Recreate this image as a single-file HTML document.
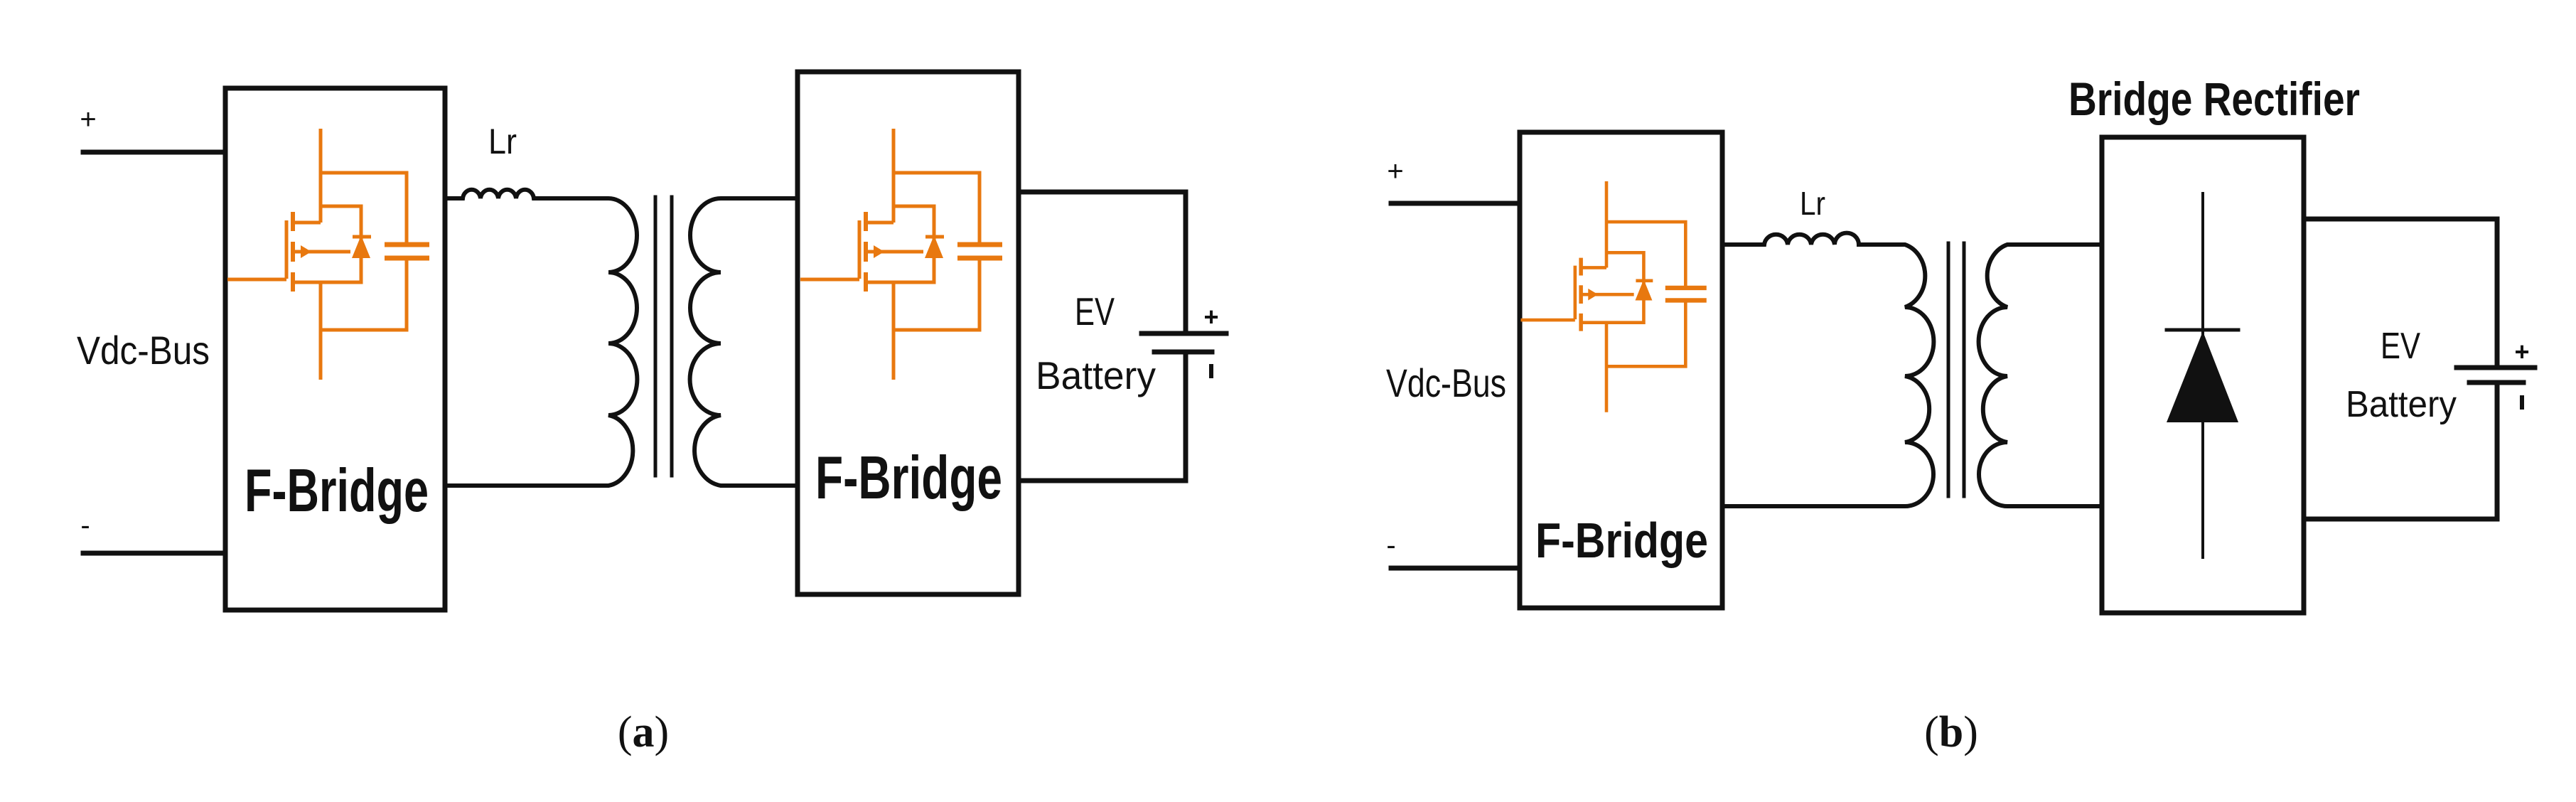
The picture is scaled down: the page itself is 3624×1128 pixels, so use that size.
<!DOCTYPE html>
<html><head><meta charset="utf-8"><style>
html,body{margin:0;padding:0;background:#fff;}
svg{display:block;}
text{font-family:"Liberation Sans",sans-serif;fill:#111;}
</style></head><body>
<svg width="3624" height="1128" viewBox="0 0 3624 1128" xmlns="http://www.w3.org/2000/svg">
<defs>
<g id="mos" stroke="#E8780F" stroke-width="5" fill="none">
  <path d="M0,0V132M-39,132H0M0,109H57V216H-39M0,216V353M0,62H121V163M121,182V283H0"/>
  <path d="M-39,117V144M-39,159V187M-39,202V229" stroke-width="6"/>
  <path d="M-48,129V211M-131,212H-48"/>
  <path d="M-39,173H42"/>
  <polygon points="-28,164 -13,173 -28,182" fill="#E8780F" stroke="none"/>
  <path d="M45,152H71"/>
  <polygon points="57,150 44,182 70,182" fill="#E8780F" stroke="none"/>
  <path d="M90,163H153M90,182H153" stroke-width="7"/>
</g>
</defs>
<g stroke="#111" stroke-width="7" fill="none" stroke-linecap="square">
  <!-- Panel a -->
  <path d="M117,214H317M117,778H317"/>
  <rect x="317" y="124" width="309" height="734"/>
  <path d="M626,279H651a12.6,14 0 0 1 25,0a12.6,14 0 0 1 25,0a12.6,14 0 0 1 25,0a12.6,14 0 0 1 25,0H856A40,52 0 0 1 856,383A40,50 0 0 1 856,483A40,50 0 0 1 856,584A40,50 0 0 1 856,683H626" stroke-width="6"/>
  <path d="M922,277V669M945,277V669" stroke-width="5"/>
  <path d="M1122,279H1014A43,52 0 0 0 1014,383A43,50 0 0 0 1014,483A43,50 0 0 0 1014,584A43,50 0 0 0 1014,683H1122" stroke-width="6"/>
  <rect x="1122" y="101" width="311" height="735"/>
  <path d="M1433,270H1668V469M1668,495V676H1433"/>
  <path d="M1606,469H1725M1624,495H1705"/>
  <!-- Panel b -->
  <path d="M1957,286H2138M1957,799H2138"/>
  <rect x="2138" y="186" width="285" height="669"/>
  <path d="M2423,344H2482a16.6,16 0 0 1 33,0a16.6,16 0 0 1 33,0a16.6,16 0 0 1 33,0a16.6,16 0 0 1 34,0H2680A40,46 0 0 1 2680,432A40,48 0 0 1 2680,529A40,47 0 0 1 2680,622A40,45 0 0 1 2680,712H2423" stroke-width="6"/>
  <path d="M2741,342V698M2763,342V698" stroke-width="5"/>
  <path d="M2957,344H2824A40,46 0 0 0 2824,432A40,48 0 0 0 2824,529A40,47 0 0 0 2824,622A40,45 0 0 0 2824,712H2957" stroke-width="6"/>
  <rect x="2957" y="193" width="284" height="669"/>
  <path d="M3099,272V784" stroke-width="4"/>
  <path d="M3048,464H3149" stroke-width="5"/>
  <path d="M3241,308H3513V517M3513,538V730H3241"/>
  <path d="M3456,517H3566M3474,538H3550"/>
</g>
<polygon points="3099,466 3048,594 3149,594" fill="#111"/>
<use href="#mos" transform="translate(451,181)"/>
<use href="#mos" transform="translate(1257,181)"/>
<use href="#mos" transform="translate(2260,255) scale(0.92)"/>
<!-- small battery signs -->
<rect x="1701" y="512" width="6" height="20" fill="#111"/>
<rect x="3545" y="556" width="6" height="20" fill="#111"/>
<!-- texts -->
<text x="124" y="181" font-size="40" text-anchor="middle">+</text>
<text x="120" y="752" font-size="40" text-anchor="middle">-</text>
<text x="108" y="512" font-size="56" textLength="187" lengthAdjust="spacingAndGlyphs">Vdc-Bus</text>
<text x="687" y="216" font-size="50" textLength="40" lengthAdjust="spacingAndGlyphs">Lr</text>
<text x="344" y="719" font-size="85" font-weight="bold" textLength="259" lengthAdjust="spacingAndGlyphs">F-Bridge</text>
<text x="1147" y="701" font-size="85" font-weight="bold" textLength="263" lengthAdjust="spacingAndGlyphs">F-Bridge</text>
<text x="1512" y="457" font-size="55" textLength="56" lengthAdjust="spacingAndGlyphs">EV</text>
<text x="1457" y="547" font-size="55" textLength="169" lengthAdjust="spacingAndGlyphs">Battery</text>
<text x="1704" y="458" font-size="36" font-weight="bold" text-anchor="middle">+</text>
<text x="1963" y="254" font-size="40" text-anchor="middle">+</text>
<text x="1957" y="780" font-size="40" text-anchor="middle">-</text>
<text x="1950" y="558" font-size="56" textLength="169" lengthAdjust="spacingAndGlyphs">Vdc-Bus</text>
<text x="2532" y="302" font-size="46" textLength="36" lengthAdjust="spacingAndGlyphs">Lr</text>
<text x="2160" y="784" font-size="70" font-weight="bold" textLength="243" lengthAdjust="spacingAndGlyphs">F-Bridge</text>
<text x="2910" y="162" font-size="66" font-weight="bold" textLength="410" lengthAdjust="spacingAndGlyphs">Bridge Rectifier</text>
<text x="3349" y="504" font-size="52" textLength="56" lengthAdjust="spacingAndGlyphs">EV</text>
<text x="3300" y="586" font-size="52" textLength="156" lengthAdjust="spacingAndGlyphs">Battery</text>
<text x="3548" y="507" font-size="36" font-weight="bold" text-anchor="middle">+</text>
<text x="905" y="1050" font-size="62" text-anchor="middle" style="font-family:'Liberation Serif',serif">(<tspan font-weight="bold">a</tspan>)</text>
<text x="2745" y="1050" font-size="62" text-anchor="middle" style="font-family:'Liberation Serif',serif">(<tspan font-weight="bold">b</tspan>)</text>
</svg>
</body></html>
